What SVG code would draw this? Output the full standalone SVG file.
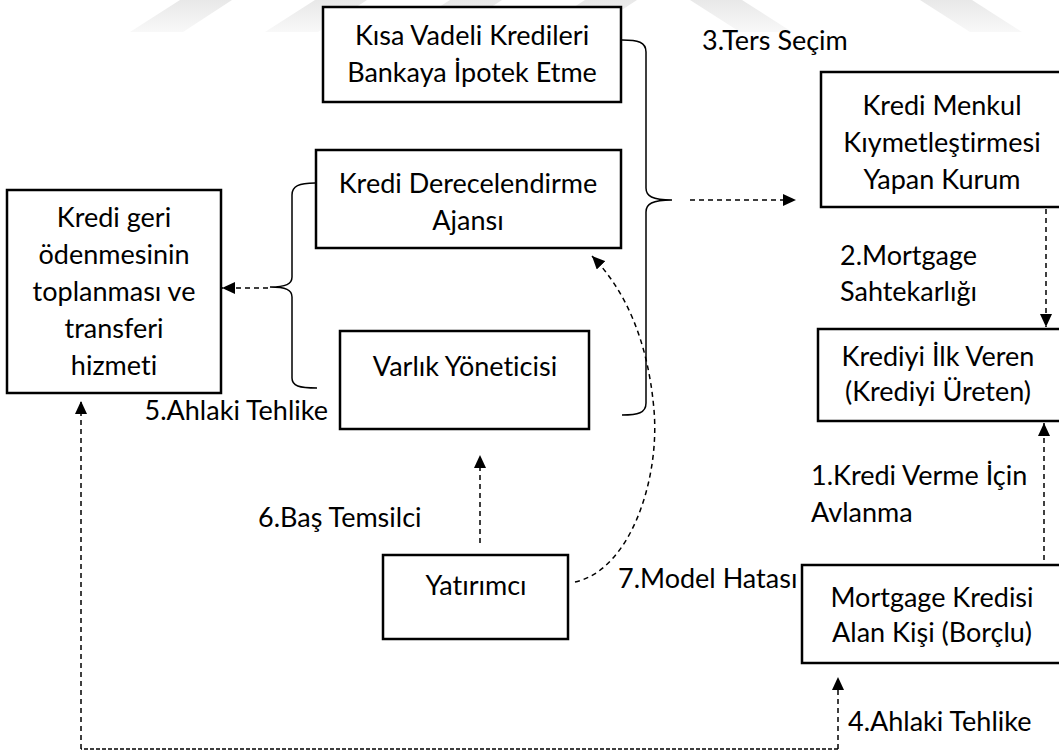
<svg xmlns="http://www.w3.org/2000/svg" width="1059" height="754" viewBox="0 0 1059 754">
  <style>
    .box { fill: #ffffff; stroke: #000000; stroke-width: 2.5; }
    .t { font-family: Lato, "Open Sans", "Liberation Sans", sans-serif; font-size: 27px; fill: #000000; font-variant-ligatures: none; font-feature-settings: "liga" 0, "dlig" 0; }
    .c { text-anchor: middle; }
    .dash { fill: none; stroke: #000000; stroke-width: 1.5; stroke-dasharray: 5 4; }
    .fine { fill: none; stroke: #000000; stroke-width: 1.5; stroke-dasharray: 4 2; }
    .brace { fill: none; stroke: #000000; stroke-width: 1.5; }
    .wm { fill: url(#wmfade); }
  </style>
  <defs>
    <marker id="ah" markerUnits="userSpaceOnUse" markerWidth="14" markerHeight="12" refX="13" refY="6" orient="auto">
      <path d="M0,0 L13,6 L0,12 z" fill="#000000" stroke="none"/>
    </marker>
    <linearGradient id="wmfade" x1="0" y1="0" x2="0" y2="1">
      <stop offset="0" stop-color="#e8e8e8"/>
      <stop offset="1" stop-color="#f8f8f8"/>
    </linearGradient>
  </defs>

  <rect width="1059" height="754" fill="#ffffff"/>

  <!-- faint background emblem stripes -->
  <g id="emblem">
    <polygon class="wm" points="130,32 183,32 232,0 180,0"/>
    <polygon class="wm" points="265,32 318,32 367,0 315,0"/>
    <polygon class="wm" points="400,32 453,32 502,0 450,0"/>
    <polygon class="wm" points="535,32 588,32 637,0 585,0"/>
    <polygon class="wm" points="690,0 742,0 792,32 740,32"/>
    <polygon class="wm" points="920,0 972,0 1022,32 970,32"/>
  </g>

  <!-- connectors -->
  <g id="connectors">
    <!-- brace grouping the three upper institutions -->
    <path class="brace" d="M622,40 C638,40 646,42 646,52 L646,188 C646,196 652,200 672,200 C652,200 646,204 646,212 L646,403 C646,413 638,415 622,415"/>
    <!-- brace grouping rating agency and asset manager -->
    <path class="brace" d="M315,183 C299,183 292,186 292,195 L292,277 C292,284 286,287 270,287 C286,287 292,290 292,297 L292,378 C292,386 299,388 317,388"/>
    <path class="dash" d="M690,200 L796,200" marker-end="url(#ah)"/>
    <path class="dash" d="M268,288 L222,288" marker-end="url(#ah)"/>
    <path class="dash" d="M1046,209 L1046,327" marker-end="url(#ah)"/>
    <path class="dash" d="M1044,560 L1044,423" marker-end="url(#ah)"/>
    <path class="dash" d="M480,543 L480,455" marker-end="url(#ah)"/>
    <path class="dash" d="M575,582 C630,570 660,480 654,410 C648,340 625,290 592,256" marker-end="url(#ah)"/>
    <path class="dash" d="M838,749 L838,677" marker-end="url(#ah)"/>
    <path class="fine" d="M838,749 L81,749"/>
    <path class="dash" d="M81,749 L81,401" marker-end="url(#ah)"/>
  </g>

  <g id="kisa-vadeli">
    <rect class="box" x="323" y="7" width="298" height="95"/>
    <text class="t c" x="472" y="45">Kısa Vadeli Kredileri</text>
    <text class="t c" x="472" y="82">Bankaya İpotek Etme</text>
  </g>

  <g id="derecelendirme">
    <rect class="box" x="316" y="150" width="305" height="98"/>
    <text class="t c" x="468" y="193">Kredi Derecelendirme</text>
    <text class="t c" x="468" y="230">Ajansı</text>
  </g>

  <g id="menkul">
    <rect class="box" x="821" y="72" width="245" height="135"/>
    <text class="t c" x="942" y="115">Kredi Menkul</text>
    <text class="t c" x="942" y="152">Kıymetleştirmesi</text>
    <text class="t c" x="942" y="189">Yapan Kurum</text>
  </g>

  <g id="tahsilat">
    <rect class="box" x="7" y="190" width="214" height="203"/>
    <text class="t c" x="114" y="227">Kredi geri</text>
    <text class="t c" x="114" y="264">ödenmesinin</text>
    <text class="t c" x="114" y="301">toplanması ve</text>
    <text class="t c" x="114" y="338">transferi</text>
    <text class="t c" x="114" y="375">hizmeti</text>
  </g>

  <g id="varlik">
    <rect class="box" x="340" y="331" width="249" height="98"/>
    <text class="t c" x="465" y="376">Varlık Yöneticisi</text>
  </g>

  <g id="ilk-veren">
    <rect class="box" x="818" y="329" width="250" height="92"/>
    <text class="t c" x="938" y="366">Krediyi İlk Veren</text>
    <text class="t c" x="938" y="401">(Krediyi Üreten)</text>
  </g>

  <g id="yatirimci">
    <rect class="box" x="383" y="555" width="185" height="84"/>
    <text class="t c" x="476" y="595">Yatırımcı</text>
  </g>

  <g id="borclu">
    <rect class="box" x="802" y="565" width="265" height="98"/>
    <text class="t c" x="932" y="607">Mortgage Kredisi</text>
    <text class="t c" x="932" y="642">Alan Kişi (Borçlu)</text>
  </g>

  <g id="labels">
    <text class="t" x="702" y="50">3.Ters Seçim</text>
    <text class="t" x="840" y="265">2.Mortgage</text>
    <text class="t" x="840" y="301">Sahtekarlığı</text>
    <text class="t" x="328" y="420" text-anchor="end">5.Ahlaki Tehlike</text>
    <text class="t" x="258" y="527">6.Baş Temsilci</text>
    <text class="t" x="618" y="588">7.Model Hatası</text>
    <text class="t" x="811" y="485">1.Kredi Verme İçin</text>
    <text class="t" x="811" y="522">Avlanma</text>
    <text class="t" x="848" y="731">4.Ahlaki Tehlike</text>
  </g>
</svg>
